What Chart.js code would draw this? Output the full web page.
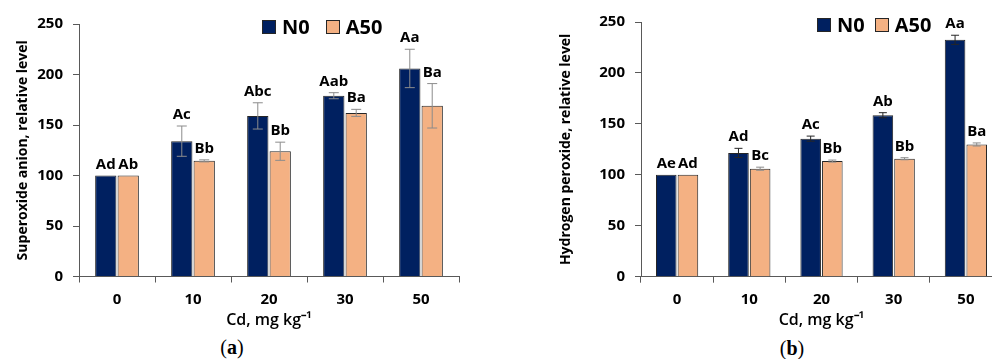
<!DOCTYPE html>
<html>
<head>
<meta charset="utf-8">
<script src="https://cdn.jsdelivr.net/npm/chart.js@4.4.1/dist/chart.umd.min.js"></script>
<style>
  html, body { margin: 0; padding: 0; background: #fff; }
  body { width: 992px; height: 359px; overflow: hidden; position: relative; font-family: 'Open Sans', sans-serif; }
  canvas { position: absolute; top: 0; }
  #chartA { left: 0; }
  #chartB { left: 540px; }
  .legend { position: absolute; display: flex; align-items: center; font: bold 20px/20px 'Open Sans', sans-serif; color: #000; white-space: nowrap; }
  .legend .box { width: 12px; height: 12px; border: 1px solid #262626; margin-right: 6px; }
  .caption { position: absolute; width: 80px; text-align: center; font: 20px/24px 'Liberation Serif', serif; color: #000; }
</style>
</head>
<body>
<canvas id="chartA" width="470" height="335"></canvas>
<canvas id="chartB" width="470" height="335"></canvas>

<div class="legend" id="legendA" style="left:262px; top:17px;">
  <span class="box" style="background:#002060"></span><span>N0</span>
  <span class="box" style="background:#F4B183; margin-left:16px"></span><span>A50</span>
</div>
<div class="legend" id="legendB" style="left:817px; top:15px;">
  <span class="box" style="background:#002060"></span><span>N0</span>
  <span class="box" style="background:#F4B183; margin-left:10px"></span><span>A50</span>
</div>
<div class="caption" style="left:192px; top:335px;">(<b>a</b>)</div>
<div class="caption" style="left:752px; top:336px;">(<b>b</b>)</div>

<script>
// Cd levels on the x axis
const cdLevels = ['0', '10', '20', '30', '50'];

// (a) superoxide anion
const superoxideN0 = [100, 134, 159, 179, 206];
const superoxideN0Err = [0, 15, 13, 3, 19];
const superoxideN0Letters = ['Ad', 'Ac', 'Abc', 'Aab', 'Aa'];
const superoxideA50 = [100, 114.5, 124, 162, 169];
const superoxideA50Err = [0, 1, 9, 3.5, 22];
const superoxideA50Letters = ['Ab', 'Bb', 'Bb', 'Ba', 'Ba'];

// (b) hydrogen peroxide
const peroxideN0 = [100, 121.5, 135.5, 158.5, 232.5];
const peroxideN0Err = [0, 4.5, 2.5, 2.5, 4.5];
const peroxideN0Letters = ['Ae', 'Ad', 'Ac', 'Ab', 'Aa'];
const peroxideA50 = [100, 106, 113.5, 115.8, 129.8];
const peroxideA50Err = [0, 1.5, 1, 1, 1.5];
const peroxideA50Letters = ['Ad', 'Bc', 'Bb', 'Bb', 'Ba'];

const navy = '#002060';
const peach = '#F4B183';
const axisColor = '#595959';

Chart.defaults.font.family = "'Open Sans', sans-serif";
Chart.defaults.color = '#000';

// draws error bars and significance letters above each bar
const errorLetters = {
  id: 'errorLetters',
  afterDatasetsDraw(chart) {
    const ctx = chart.ctx;
    const yScale = chart.scales.y;
    ctx.save();
    chart.data.datasets.forEach((ds, di) => {
      const meta = chart.getDatasetMeta(di);
      meta.data.forEach((bar, i) => {
        const v = ds.data[i];
        const e = ds.errors[i];
        const top = yScale.getPixelForValue(v + e);
        if (e > 0) {
          const bottom = yScale.getPixelForValue(v - e);
          const cap = ds.capHalf;
          ctx.strokeStyle = ds.errorColor;
          ctx.lineWidth = 1;
          ctx.beginPath();
          ctx.moveTo(bar.x, top);
          ctx.lineTo(bar.x, bottom);
          ctx.moveTo(bar.x - cap, top);
          ctx.lineTo(bar.x + cap, top);
          ctx.moveTo(bar.x - cap, bottom);
          ctx.lineTo(bar.x + cap, bottom);
          ctx.stroke();
        }
        ctx.fillStyle = '#000';
        ctx.font = "bold 15px 'Open Sans', sans-serif";
        ctx.textAlign = 'center';
        ctx.textBaseline = 'alphabetic';
        ctx.fillText(ds.letters[i], bar.x, top - 7);
      });
    });
    ctx.restore();
  }
};

function makePanel(id, cfg) {
  const ctx = document.getElementById(id).getContext('2d');
  return new Chart(ctx, {
    type: 'bar',
    data: {
      labels: cdLevels,
      datasets: [{
        label: 'N0',
        data: cfg.n0,
        errors: cfg.n0Err,
        letters: cfg.n0Letters,
        errorColor: cfg.n0ErrColor,
        capHalf: cfg.capHalf,
        backgroundColor: navy,
        borderColor: '#262626',
        borderWidth: 1,
        categoryPercentage: cfg.catPct,
        barPercentage: 0.95
      }, {
        label: 'A50',
        data: cfg.a50,
        errors: cfg.a50Err,
        letters: cfg.a50Letters,
        errorColor: '#8c8c8c',
        capHalf: cfg.capHalf,
        backgroundColor: peach,
        borderColor: '#262626',
        borderWidth: 1,
        categoryPercentage: cfg.catPct,
        barPercentage: 0.95
      }]
    },
    options: {
      responsive: false,
      animation: false,
      devicePixelRatio: 1,
      layout: { padding: { top: cfg.padTop, right: cfg.padRight, bottom: 0, left: 0 } },
      plugins: { legend: { display: false }, tooltip: { enabled: false } },
      scales: {
        x: {
          grid: { drawOnChartArea: false, drawTicks: true, tickLength: 6, color: axisColor, offset: true },
          border: { color: axisColor, width: 1 },
          ticks: { font: { size: 15, weight: 'bold' }, padding: 8, color: '#000' },
          title: { display: true, text: 'Cd, mg kg⁻¹', font: { size: 16, weight: '600' }, padding: { top: 0, bottom: 5 }, color: '#000' },
          afterFit(scale) { scale.height = cfg.xHeight; }
        },
        y: {
          min: 0,
          max: 250,
          ticks: { stepSize: 50, font: { size: 15, weight: 'bold' }, padding: 10, color: '#000' },
          grid: { drawOnChartArea: false, drawTicks: true, tickLength: 6, color: axisColor },
          border: { color: axisColor, width: 1 },
          title: { display: true, text: cfg.yTitle, font: { size: 14, weight: 'bold' }, padding: { top: cfg.yTitlePad, bottom: 0 }, color: '#000' },
          afterFit(scale) { scale.width = cfg.yWidth; }
        }
      }
    },
    plugins: [errorLetters]
  });
}

makePanel('chartA', {
  n0: superoxideN0, n0Err: superoxideN0Err, n0Letters: superoxideN0Letters,
  a50: superoxideA50, a50Err: superoxideA50Err, a50Letters: superoxideA50Letters,
  n0ErrColor: '#8c8c8c', capHalf: 5, catPct: 0.59,
  padTop: 24, padRight: 11, xHeight: 58.5, yWidth: 79, yTitlePad: 15,
  yTitle: 'Superoxide anion, relative level'
});

makePanel('chartB', {
  n0: peroxideN0, n0Err: peroxideN0Err, n0Letters: peroxideN0Letters,
  a50: peroxideA50, a50Err: peroxideA50Err, a50Letters: peroxideA50Letters,
  n0ErrColor: '#262626', capHalf: 4, catPct: 0.6,
  padTop: 22, padRight: 8, xHeight: 58.3, yWidth: 101, yTitlePad: 18,
  yTitle: 'Hydrogen peroxide, relative level'
});
</script>
</body>
</html>
